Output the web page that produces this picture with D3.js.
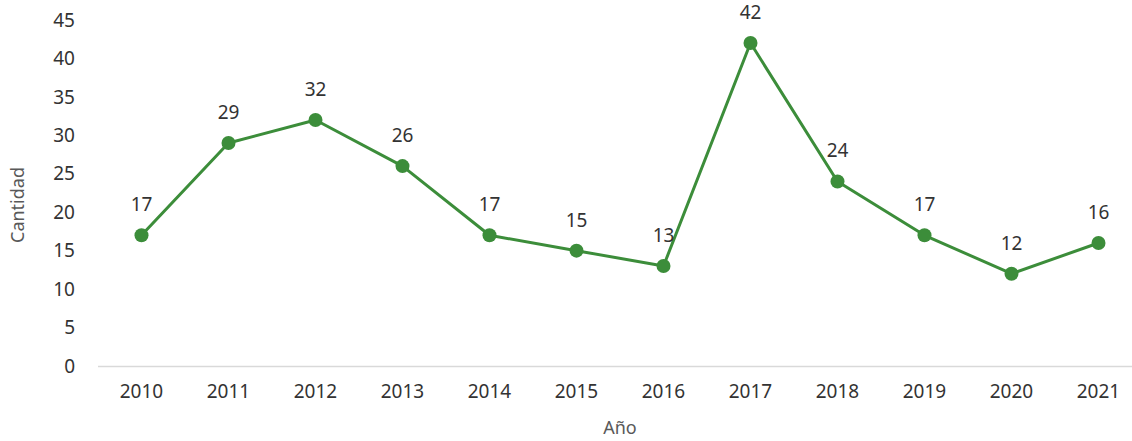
<!DOCTYPE html>
<html><head><meta charset="utf-8">
<script src="https://cdn.jsdelivr.net/npm/d3@7"></script>
<style>body{margin:0;background:#fff}svg{display:block}</style>
</head><body><svg id="c" width="1132" height="441"></svg>
<script>
const years = ["2010","2011","2012","2013","2014","2015","2016","2017","2018","2019","2020","2021"];
const values = [17,29,32,26,17,15,13,42,24,17,12,16];
const yTicks = [0,5,10,15,20,25,30,35,40,45];

const svg = d3.select("#c");
const font = "'Noto Sans', sans-serif";
const x = d3.scaleBand().domain(years).range([98, 1142]);
const y = d3.scaleLinear().domain([0,45]).range([366, 20]);
const cx = d => x(d) + x.bandwidth()/2;

// baseline
svg.append("line").attr("x1",98).attr("x2",1132).attr("y1",y(0)+0.5).attr("y2",y(0)+0.5)
  .attr("stroke","#d9d9d9").attr("stroke-width",1.5);

// y tick labels
svg.append("g").selectAll("text").data(yTicks).join("text")
  .attr("x",75).attr("y",d=>y(d)).attr("dy","0.35em").attr("text-anchor","end")
  .attr("font-family",font).attr("font-size",19).attr("fill","#333333").text(d=>d);

// x tick labels
svg.append("g").selectAll("text").data(years).join("text")
  .attr("x",d=>cx(d)).attr("y",398).attr("text-anchor","middle")
  .attr("font-family",font).attr("font-size",19).attr("fill","#333333").text(d=>d);

// axis titles
svg.append("text").attr("transform","translate(24,205) rotate(-90)").attr("text-anchor","middle")
  .attr("font-family",font).attr("font-size",18).attr("fill","#595959").text("Cantidad");
svg.append("text").attr("x",620).attr("y",434).attr("text-anchor","middle")
  .attr("font-family",font).attr("font-size",18).attr("fill","#595959").text("Año");

const color = "#3c8d3a";
const line = d3.line().x((d,i)=>cx(years[i])).y(d=>y(d));
svg.append("path").datum(values).attr("d",line).attr("fill","none")
  .attr("stroke",color).attr("stroke-width",3).attr("stroke-linejoin","round");
svg.append("g").selectAll("circle").data(values).join("circle")
  .attr("cx",(d,i)=>cx(years[i])).attr("cy",d=>y(d)).attr("r",7).attr("fill",color);

// data labels
svg.append("g").selectAll("text").data(values).join("text")
  .attr("x",(d,i)=>cx(years[i])).attr("y",d=>y(d)-24).attr("text-anchor","middle")
  .attr("font-family",font).attr("font-size",19).attr("fill","#333333").text(d=>d);
</script></body></html>
